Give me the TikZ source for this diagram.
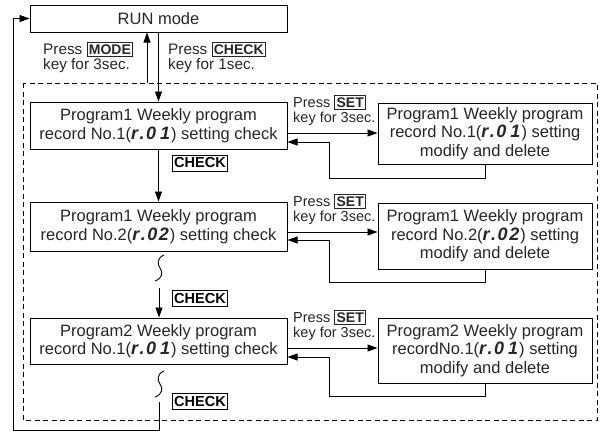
\documentclass[tikz,border=0pt]{standalone}
\usepackage{fontspec}
\setmainfont{Liberation Sans}
\usetikzlibrary{arrows.meta}
\newcommand\segd[1]{{\bfseries\itshape\fontsize{18}{18}\selectfont #1}}
\newcommand\segone{\segd{r\kern1.5pt.\kern1.5pt0\kern4pt1\kern1pt}}
\newcommand\segtwo{\segd{r\kern1.5pt.\kern1.5pt0\kern1.5pt2\kern1pt}}
\newcommand\keyb[1]{{\setlength{\fboxsep}{1.5pt}\setlength{\fboxrule}{0.8pt}\fbox{\bfseries\fontsize{14}{14}\selectfont #1}}}
\begin{document}
\begin{tikzpicture}[x=1pt,y=-1pt,
  box/.style={draw, line width=1pt, minimum width=257pt, align=center,
    font=\fontsize{16.5}{18.5}\selectfont, text=black!85, inner sep=0pt},
  rbox/.style={box, minimum width=214pt},
  lbl/.style={font=\fontsize{15.3}{17}\selectfont, text=black!85, inner sep=0pt, anchor=base west},
  rlbl/.style={lbl, font=\fontsize{14.5}{16}\selectfont},
  keyn/.style={draw, line width=0.8pt, font=\bfseries\fontsize{14.5}{14.5}\selectfont, inner sep=1.5pt, minimum height=16pt},
  arr/.style={line width=0.9pt, -{Triangle[length=10pt,width=7pt]}},
  ln/.style={line width=0.9pt},
  dsh/.style={line width=0.8pt, dash pattern=on 5pt off 3.5pt}]
\useasboundingbox (0,0) rectangle (604,432);
% dashed frame
\draw[dsh] (23,83) rectangle (597,420);
% nodes
\node[box, minimum height=27pt] (run) at (158.5,18.5) {RUN mode};
\node[box, minimum height=47pt] (b1) at (158.5,125.5) {Program1 Weekly program\\record No.1(\segone) setting check};
\node[box, minimum height=49pt] (b2) at (158.5,226.5) {Program1 Weekly program\\record No.2(\segtwo) setting check};
\node[box, minimum height=46pt] (b3) at (158.5,341) {Program2 Weekly program\\record No.1(\segone) setting check};
\node[rbox, minimum height=61pt] (r1) at (485,133.5) {Program1 Weekly program\\record No.1(\segone) setting\\modify and delete};
\node[rbox, minimum height=66pt] (r2) at (485,236) {Program1 Weekly program\\record No.2(\segtwo) setting\\modify and delete};
\node[rbox, minimum height=65pt] (r3) at (485,350.5) {Program2 Weekly program\\recordNo.1(\segone) setting\\modify and delete};
% labels
\node[lbl] (m1) at (43,54) {Press \keyb{MODE}};
\node[lbl] (m2) at (43,69) {key for 3sec.};
\node[lbl] (c1) at (168,54) {Press \keyb{CHECK}};
\node[lbl] (c2) at (168,69) {key for 1sec.};
\node[rlbl] (s1a) at (293,107) {Press \keyb{SET}};
\node[rlbl] (s1b) at (293,122) {key for 3sec.};
\node[rlbl] (s2a) at (293,206) {Press \keyb{SET}};
\node[rlbl] (s2b) at (293,221) {key for 3sec.};
\node[rlbl] (s3a) at (293,322) {Press \keyb{SET}};
\node[rlbl] (s3b) at (293,337) {key for 3sec.};
\node[keyn] (k1) at (200,163) {CHECK};
\node[keyn] (k2) at (200,298) {CHECK};
\node[keyn] (k3) at (200,401.5) {CHECK};
% coordinates
\coordinate (dtop) at (147,83);
\coordinate (q2) at (159,288);
\coordinate (q3) at (159,402);
\coordinate (fb) at (13,430);
% vertical flow
\draw[arr] (dtop) -- (dtop |- run.south);
\draw[arr] (run.south) -- (b1.north);
\draw[arr] (b1.south) -- (b2.north);
\draw[arr] (q2) -- (q2 |- b3.north);
\draw[arr] (q3) |- (fb) |- (run.west);
% squiggles
\draw[ln] (164,255) .. controls (157,258) and (157,264) .. (160,268) .. controls (163,272) and (163,278) .. (155,281);
\draw[ln] (164,371) .. controls (157,374) and (157,380) .. (160,384) .. controls (163,388) and (163,394) .. (155,397);
% set arrows and returns
\draw[arr] (b1.east |- 0,133) -- (r1.west |- 0,133);
\draw[arr] (r1.south) |- (329,178) |- (b1.east |- 0,142);
\draw[arr] (b2.east |- 0,232) -- (r2.west |- 0,232);
\draw[arr] (r2.south) |- (329,282) |- (b2.east |- 0,240);
\draw[arr] (b3.east |- 0,348) -- (r3.west |- 0,348);
\draw[arr] (r3.south) |- (329,396) |- (b3.east |- 0,357);
\end{tikzpicture}
\end{document}
